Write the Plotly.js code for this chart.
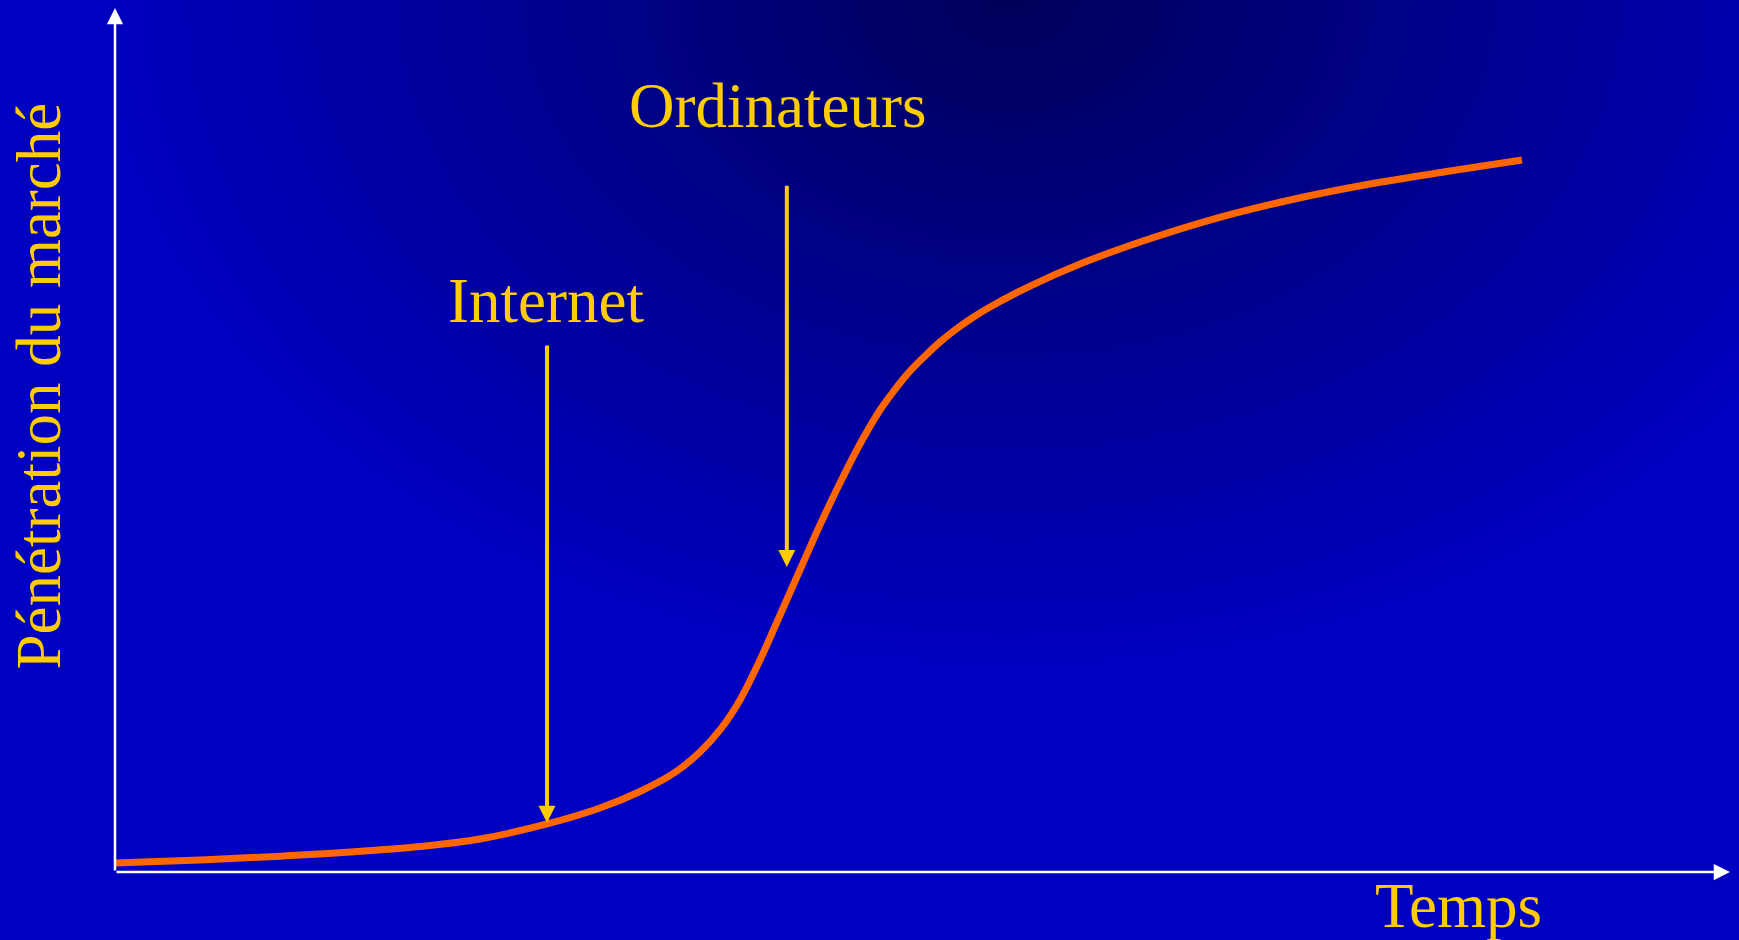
<!DOCTYPE html>
<html>
<head>
<meta charset="utf-8">
<script src="https://cdn.plot.ly/plotly-3.0.1.min.js"></script>
<style>
  html, body { margin: 0; padding: 0; }
  #chart {
    width: 1739px; height: 940px;
    background: radial-gradient(ellipse 900px 660px at 1010px 0px, #00005A 0%, #0000C0 100%);
  }
</style>
</head>
<body>
<div id="chart"></div>
<script>
// ---- Data (time vs market penetration, arbitrary units 0–100) ----
const temps = [0, 5.26, 10.22, 14.55, 18.89, 22.60, 26.75, 30.03, 32.51, 34.67, 36.22, 37.46, 38.70, 39.94, 41.18, 42.41, 43.65, 44.89, 46.13, 47.37, 47.99, 48.61, 49.35, 50.15, 51.08, 52.01, 53.07, 54.18, 56.66, 59.75, 63.47, 67.80, 72.76, 77.71, 82.66, 87.12];
const penetration = [1.04, 1.39, 1.83, 2.31, 2.95, 3.82, 5.56, 7.41, 9.32, 11.52, 13.89, 16.44, 19.91, 24.54, 29.75, 34.95, 40.16, 45.02, 49.54, 53.47, 55.09, 56.60, 58.22, 59.72, 61.34, 62.73, 64.12, 65.39, 67.82, 70.37, 72.92, 75.46, 77.78, 79.63, 81.13, 82.41];

// ---- Labelled markers on the curve ----
const markerLabels = ["Internet", "Ordinateurs"];
const markerTimes = [26.75, 41.6];
const markerTipValues = [5.7, 35.3];
const markerTailValues = [61.1, 79.6];

// ---- Axis titles ----
const xTitle = "Temps";
const yTitle = "Pénétration du marché";

const yellow = "#FFCC00";
const font = { family: "'Liberation Serif', 'Times New Roman', Times, serif", size: 63, color: yellow };

const trace = {
  x: temps, y: penetration, type: "scatter", mode: "lines",
  line: { color: "#FF6600", width: 7, shape: "spline", smoothing: 1 },
  hoverinfo: "skip", showlegend: false
};

const annotations = [];
// axis arrows
annotations.push({ xref: "paper", yref: "paper", x: 0, y: 1, axref: "pixel", ayref: "pixel", ax: 0, ay: 864,
  text: "", showarrow: true, arrowhead: 2, arrowsize: 1.3, arrowwidth: 2.5, arrowcolor: "#FFFFFF", standoff: 0 });
annotations.push({ xref: "paper", yref: "paper", x: 1, y: 0, axref: "pixel", ayref: "pixel", ax: -1615, ay: 0,
  text: "", showarrow: true, arrowhead: 2, arrowsize: 1.3, arrowwidth: 2.5, arrowcolor: "#FFFFFF", standoff: 0 });

// marker arrows and labels
const labelPos = [ { x: 0.267, y: 0.661 }, { x: 0.410, y: 0.887 } ];
markerLabels.forEach((lab, i) => {
  annotations.push({ xref: "x", yref: "y", axref: "x", ayref: "y",
    x: markerTimes[i], y: markerTipValues[i], ax: markerTimes[i], ay: markerTailValues[i],
    text: "", showarrow: true, arrowhead: 2, arrowsize: 0.85, arrowwidth: 4, arrowcolor: yellow, standoff: 0 });
  annotations.push({ xref: "paper", yref: "paper", x: labelPos[i].x, y: labelPos[i].y,
    xanchor: "center", yanchor: "middle", text: lab, showarrow: false, font: font });
});

annotations.push({ xref: "paper", yref: "paper", x: 0.8316, y: -0.039, xanchor: "center", yanchor: "middle",
  text: xTitle, showarrow: false, font: font });
annotations.push({ xref: "paper", yref: "paper", x: -0.047, y: 0.562, xanchor: "center", yanchor: "middle",
  text: yTitle, textangle: -90, showarrow: false, font: font });

const layout = {
  width: 1739, height: 940,
  margin: { l: 115, r: 9, t: 8, b: 68, pad: 0 },
  paper_bgcolor: "rgba(0,0,0,0)", plot_bgcolor: "rgba(0,0,0,0)",
  xaxis: { range: [0, 100], showgrid: false, zeroline: false, showticklabels: false, ticks: "", showline: false, fixedrange: true },
  yaxis: { range: [0, 100], showgrid: false, zeroline: false, showticklabels: false, ticks: "", showline: false, fixedrange: true },
  annotations: annotations,
  showlegend: false
};

Plotly.newPlot("chart", [trace], layout, { displayModeBar: false, staticPlot: true });
</script>
</body>
</html>
